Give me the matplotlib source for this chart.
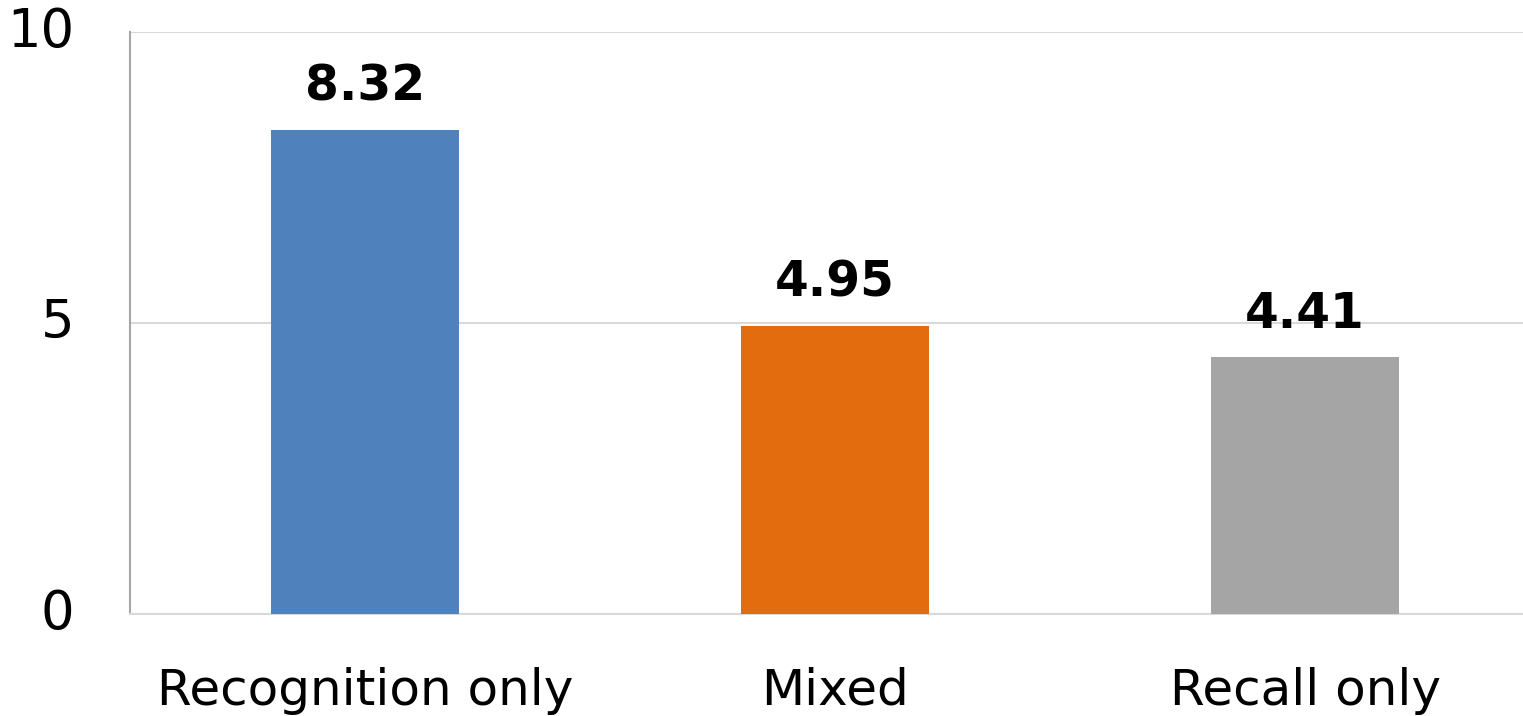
import matplotlib
matplotlib.use("Agg")
import matplotlib.pyplot as plt

categories = ["Recognition only", "Mixed", "Recall only"]
values = [8.32, 4.95, 4.41]
colors = ["#4F81BD", "#E36C0E", "#A5A5A5"]
yticks = [0, 5, 10]

W, H = 1523, 716
fig = plt.figure(figsize=(W/100, H/100), dpi=100)
ax = fig.add_axes([130/W, (H-614)/H, 1410/W, 582/H])
plt.rcParams['font.family'] = ['DejaVu Sans']

x = list(range(len(categories)))
ax.bar(x, values, width=0.4, color=colors, zorder=3)
ax.set_xlim(-0.5, 2.5)
ax.set_ylim(0, 10)
ax.set_yticks(yticks)
ax.set_yticklabels([str(t) for t in yticks], fontsize=38)
for lbl in ax.get_yticklabels():
    lbl.set_verticalalignment("center")
ax.set_xticks(x)
ax.set_xticklabels(categories, fontsize=36)
ax.tick_params(axis='y', length=0, pad=40)
ax.tick_params(axis='x', length=0, pad=38)
ax.yaxis.grid(True, color="#D9D9D9", linewidth=1.5, zorder=0)
for s in ["top", "right"]:
    ax.spines[s].set_visible(False)
ax.spines["left"].set_color("#A6A6A6")
ax.spines["left"].set_linewidth(1.5)
ax.spines["bottom"].set_color("#D9D9D9")
ax.spines["bottom"].set_linewidth(1.5)

for xi, v in zip(x, values):
    ax.annotate(f"{v:.2f}", (xi, v), xytext=(0, 14), textcoords="offset points",
                ha="center", va="bottom", fontsize=35, fontweight="bold")

fig.savefig("out.png", dpi=100)
